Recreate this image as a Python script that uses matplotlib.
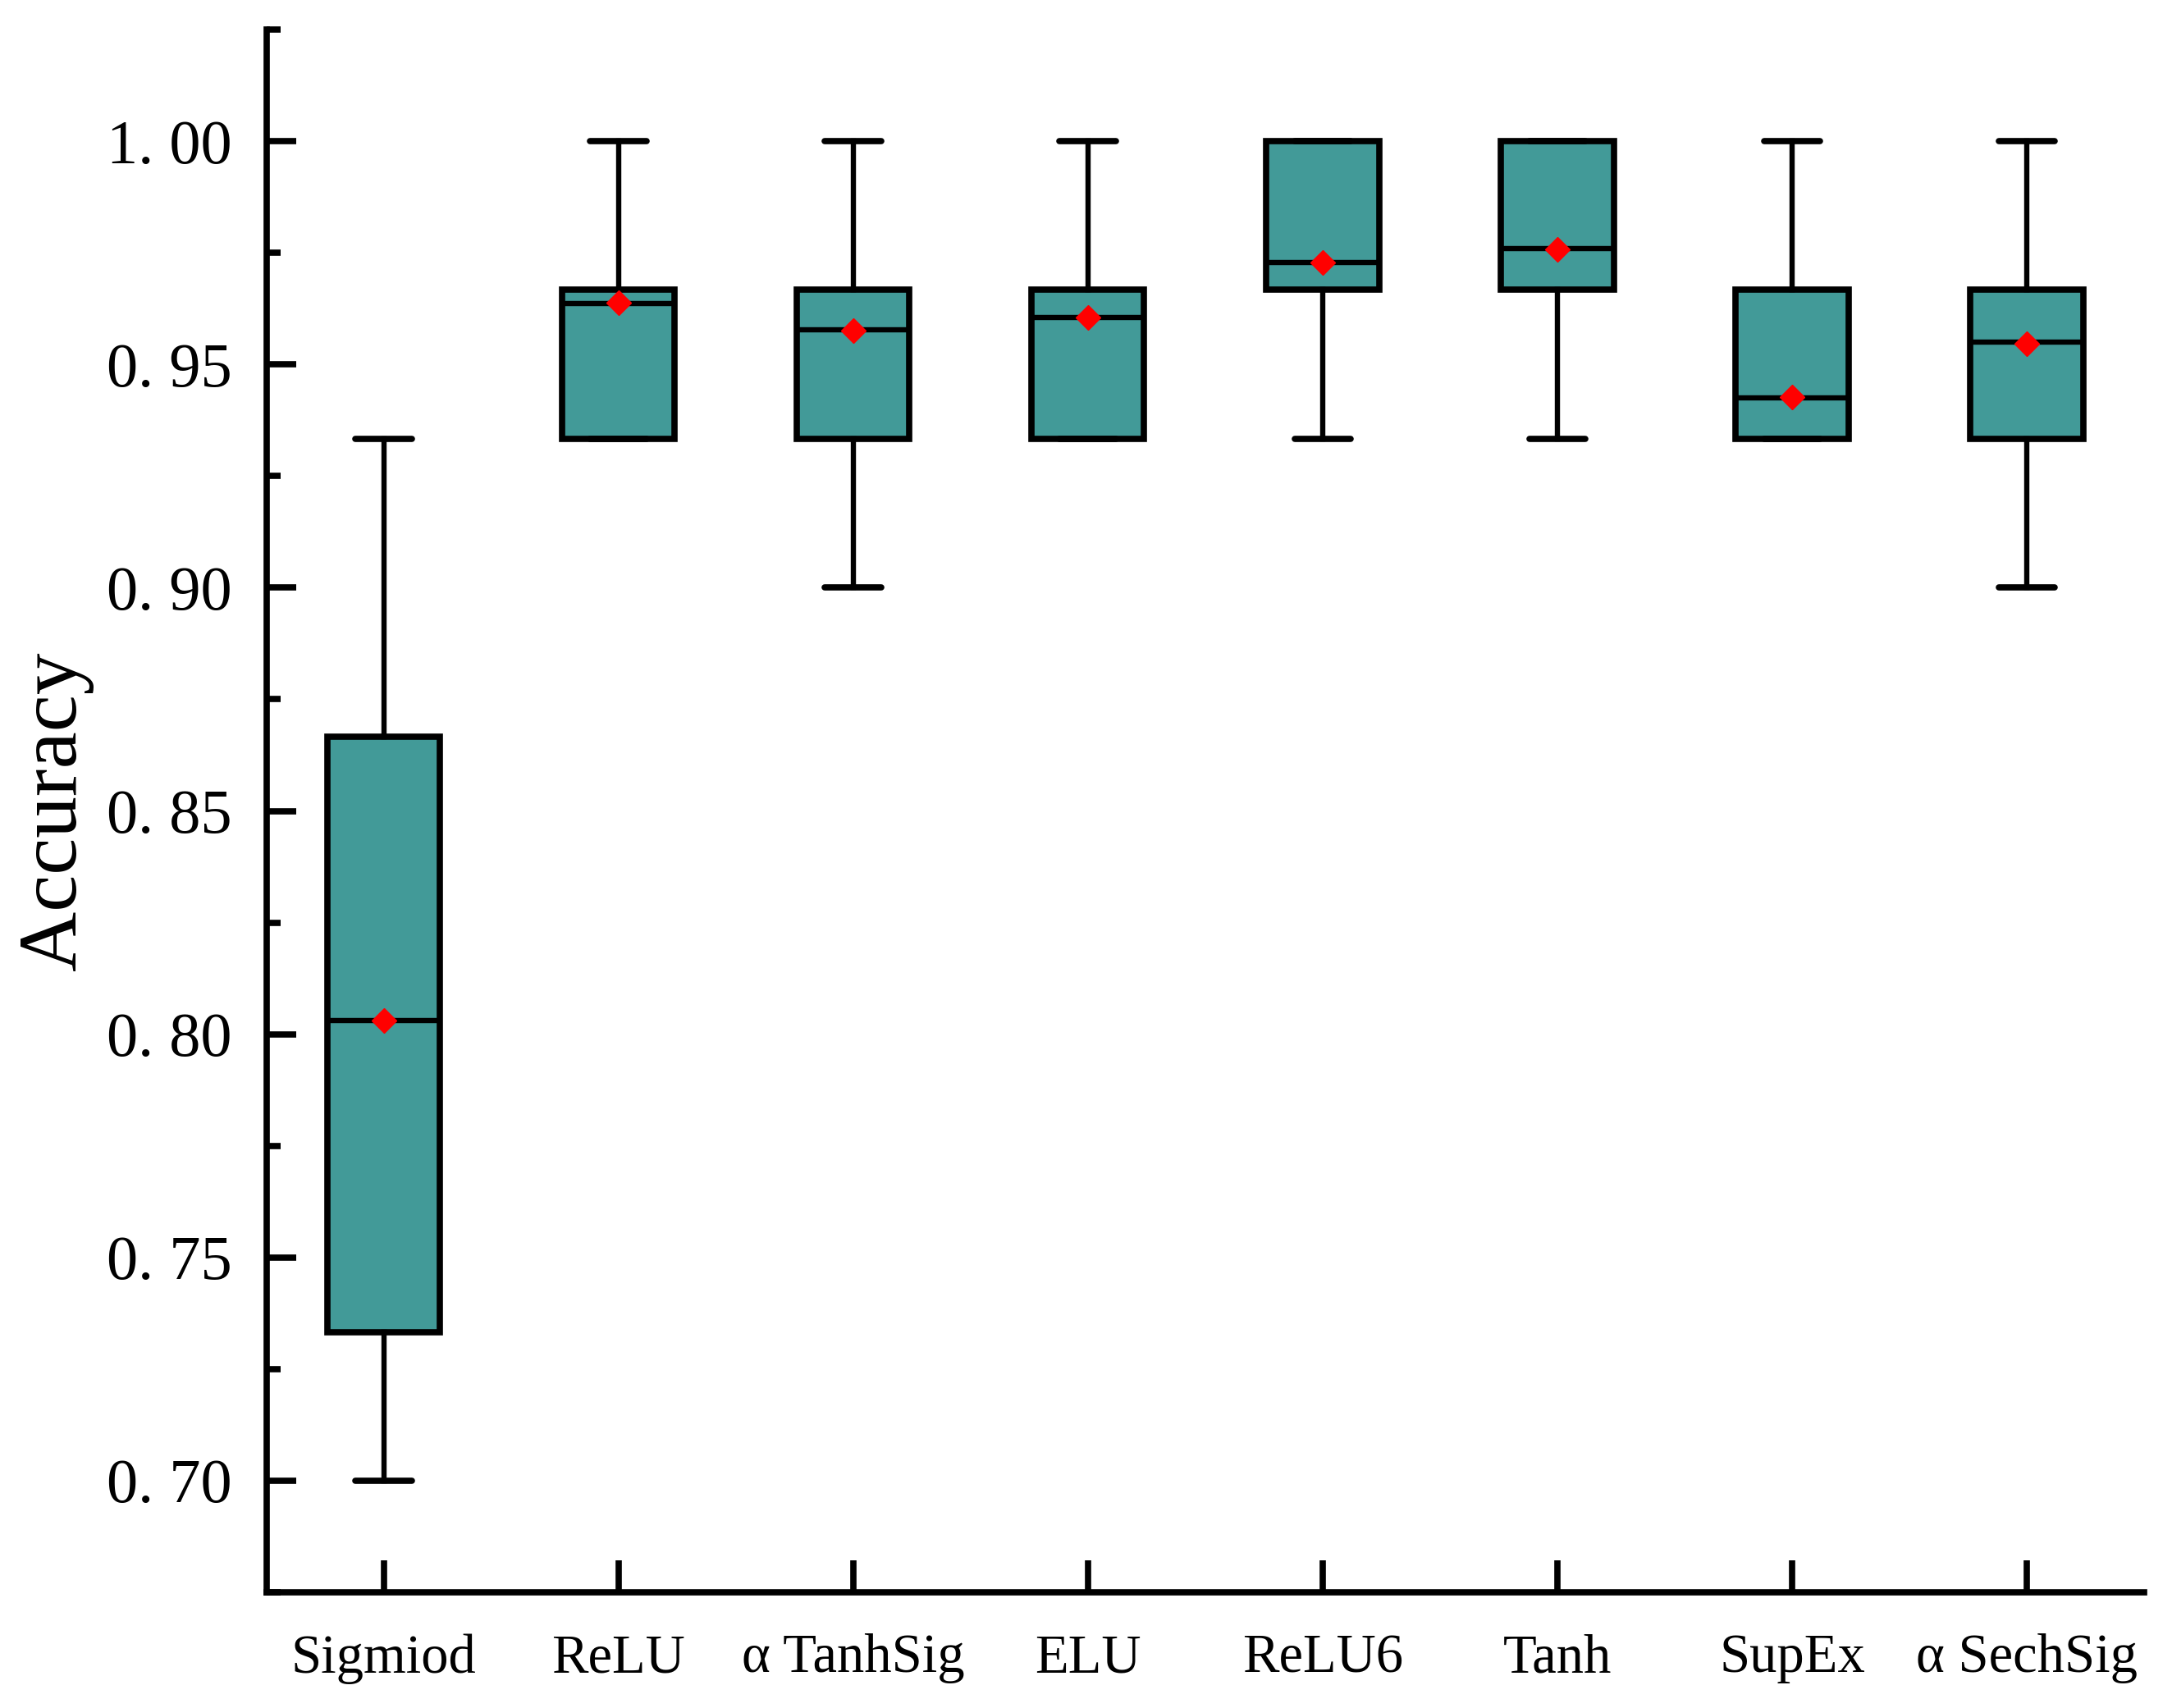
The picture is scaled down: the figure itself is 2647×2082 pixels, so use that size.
import matplotlib
matplotlib.use("Agg")
import matplotlib.pyplot as plt
from matplotlib.ticker import MultipleLocator, FuncFormatter

# ---- data ----
labels = ['Sigmiod', 'ReLU', 'α TanhSig', 'ELU', 'ReLU6', 'Tanh', 'SupEx', 'α SechSig']
whislo = [0.7000, 0.9333, 0.9000, 0.9333, 0.9333, 0.9333, 0.9333, 0.9000]
q1     = [0.7333, 0.9333, 0.9333, 0.9333, 0.9667, 0.9667, 0.9333, 0.9333]
med    = [0.8030, 0.9636, 0.9578, 0.9606, 0.9728, 0.9759, 0.9425, 0.9550]
q3     = [0.8667, 0.9667, 0.9667, 0.9667, 1.0000, 1.0000, 0.9667, 0.9667]
whishi = [0.9333, 1.0000, 1.0000, 1.0000, 1.0000, 1.0000, 1.0000, 1.0000]
means  = [0.8030, 0.9639, 0.9576, 0.9606, 0.9728, 0.9757, 0.9427, 0.9546]

FONT = ['Liberation Serif', 'DejaVu Serif']
plt.rcParams['font.family'] = FONT

fig = plt.figure(figsize=(26.47, 20.82), dpi=100)
ax = fig.add_axes([0.1226, 0.0677, 0.9872 - 0.1226, 0.9827 - 0.0677])

stats = []
for i in range(len(labels)):
    stats.append(dict(label=labels[i], whislo=whislo[i], q1=q1[i], med=med[i],
                      q3=q3[i], whishi=whishi[i], mean=means[i], fliers=[]))

ax.bxp(stats, positions=range(1, len(labels) + 1), widths=0.48,
       patch_artist=True, showmeans=True, showfliers=False,
       boxprops=dict(facecolor='#429a98', edgecolor='black', linewidth=5.5),
       whiskerprops=dict(color='black', linewidth=4.6),
       capprops=dict(color='black', linewidth=5.5, solid_capstyle='round'),
       medianprops=dict(color='black', linewidth=4.6),
       meanprops=dict(marker='D', markerfacecolor='red', markeredgecolor='red',
                      markersize=15))

ax.set_xlim(0.5, 8.5)
ax.set_ylim(0.675, 1.025)

for s in ['top', 'right']:
    ax.spines[s].set_visible(False)
for s in ['left', 'bottom']:
    ax.spines[s].set_linewidth(5.5)

ax.yaxis.set_major_locator(MultipleLocator(0.05))
ax.yaxis.set_minor_locator(MultipleLocator(0.025))
ax.yaxis.set_major_formatter(FuncFormatter(lambda v, p: f"{v:.2f}".replace('.', '. ')))
ax.tick_params(axis='y', which='major', direction='in', length=26, width=5.5,
               labelsize=55, pad=30)
ax.tick_params(axis='y', which='minor', direction='in', length=12, width=5.5)
ax.tick_params(axis='x', which='major', direction='in', length=28, width=5.5,
               labelsize=48, pad=36)
ax.set_xticks(range(1, len(labels) + 1))
ax.set_xticklabels(labels)

ax.set_ylabel('Accuracy', fontsize=73)
ax.yaxis.set_label_coords(-0.092, 0.50)

fig.savefig('out.png', dpi=100, facecolor='white')
